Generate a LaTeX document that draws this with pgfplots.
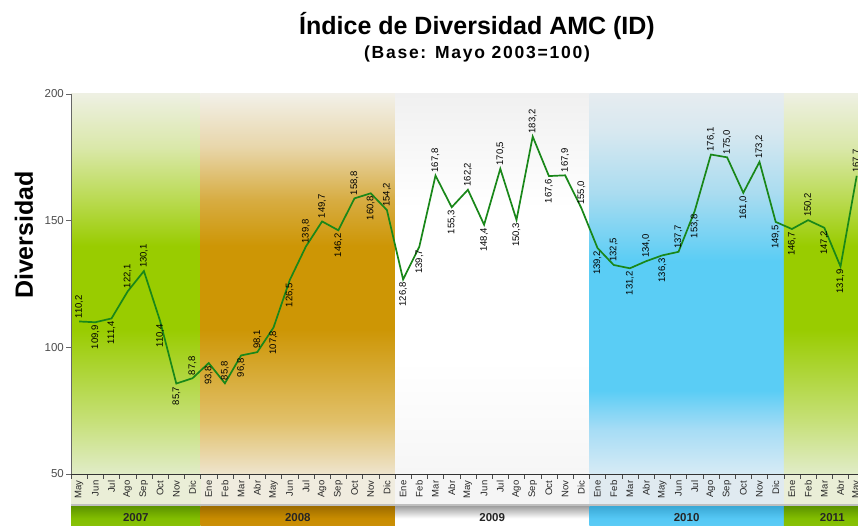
\documentclass[border=0pt]{standalone}
\usepackage{fontspec}
\setmainfont{Liberation Sans}
\usepackage{pgfplots}
\usepackage{pgfplotstable}
\pgfplotsset{compat=1.18}

\definecolor{lineG}{RGB}{25,135,25}
% green bands
\definecolor{gA}{RGB}{225,236,200}
\definecolor{gB}{RGB}{198,224,120}
\definecolor{gS}{RGB}{153,204,0}
\definecolor{gC}{RGB}{185,218,80}
\definecolor{gD}{RGB}{218,232,170}
\definecolor{gE}{RGB}{238,240,226}
% gold band
\definecolor{oA}{RGB}{238,228,205}
\definecolor{oB}{RGB}{225,192,105}
\definecolor{oS}{RGB}{205,150,5}
\definecolor{oC}{RGB}{215,172,65}
\definecolor{oD}{RGB}{232,214,170}
\definecolor{oE}{RGB}{242,240,232}
% blue band
\definecolor{bA}{RGB}{215,235,245}
\definecolor{bB}{RGB}{165,220,245}
\definecolor{bS}{RGB}{90,205,245}
\definecolor{bC}{RGB}{170,220,240}
\definecolor{bD}{RGB}{215,232,240}
\definecolor{bE}{RGB}{230,236,240}
% white band
\definecolor{wA}{RGB}{246,246,246}
\definecolor{wS}{RGB}{255,255,255}
\definecolor{wE}{RGB}{240,240,240}

\pgfdeclareverticalshading{sh07}{100bp}{color(0bp)=(gA); color(25bp)=(gA); color(32bp)=(gB); color(44bp)=(gS); color(55bp)=(gS); color(61bp)=(gC); color(68bp)=(gD); color(75bp)=(gE); color(100bp)=(gE)}
\pgfdeclareverticalshading{sh08}{100bp}{color(0bp)=(oA); color(25bp)=(oA); color(32bp)=(oB); color(44bp)=(oS); color(55bp)=(oS); color(61bp)=(oC); color(68bp)=(oD); color(75bp)=(oE); color(100bp)=(oE)}
\pgfdeclareverticalshading{sh09}{100bp}{color(0bp)=(wA); color(25bp)=(wA); color(40bp)=(wS); color(60bp)=(wS); color(75bp)=(wE); color(100bp)=(wE)}
\pgfdeclareverticalshading{sh10}{100bp}{color(0bp)=(bA); color(25bp)=(bA); color(31bp)=(bB); color(36bp)=(bS); color(53bp)=(bS); color(62bp)=(bC); color(70bp)=(bD); color(75bp)=(bE); color(100bp)=(bE)}

% index of month (0 = May 2007) and value of the index
\pgfplotstableread{
x y
0 110.2
1 109.9
2 111.4
3 122.1
4 130.1
5 110.4
6 85.7
7 87.8
8 93.8
9 85.8
10 96.8
11 98.1
12 107.8
13 126.5
14 139.8
15 149.7
16 146.2
17 158.8
18 160.8
19 154.2
20 126.8
21 139.7
22 167.8
23 155.3
24 162.2
25 148.4
26 170.5
27 150.3
28 183.2
29 167.6
30 167.9
31 155.0
32 139.2
33 132.5
34 131.2
35 134.0
36 136.3
37 137.7
38 153.8
39 176.1
40 175.0
41 161.0
42 173.2
43 149.5
44 146.7
45 150.2
46 147.2
47 131.9
48 167.7
}\datatable
% points whose label stands above the line
\pgfplotstableread{
x y
0 110.2
3 122.1
4 130.1
7 87.8
9 85.8
11 98.1
14 139.8
15 149.7
17 158.8
19 154.2
22 167.8
24 162.2
26 170.5
28 183.2
30 167.9
31 155.0
33 132.5
35 134.0
37 137.7
39 176.1
40 175.0
42 173.2
45 150.2
48 167.7
}\abovetable
% points whose label stands below the line
\pgfplotstableread{
x y
1 109.9
2 111.4
5 110.4
6 85.7
8 93.8
10 96.8
12 107.8
13 126.5
16 146.2
18 160.8
20 126.8
21 139.7
23 155.3
25 148.4
27 150.3
29 167.6
32 139.2
34 131.2
36 136.3
38 153.8
41 161.0
43 149.5
44 146.7
46 147.2
47 131.9
}\belowtable

\begin{document}
\begin{tikzpicture}
\path[use as bounding box] (0,0) rectangle (858pt,526pt);
\begin{axis}[
  at={(71pt,52pt)}, anchor=south west,
  scale only axis, width=793.8pt, height=380pt,
  xmin=-0.5, xmax=48.5, ymin=50, ymax=200,
  clip=false, axis on top,
  axis x line*=bottom, axis y line*=left,
  x axis line style={-, draw=black!80, line width=0.8pt},
  y axis line style={-, draw=black!60, line width=0.8pt},
  tick align=outside,
  major tick length=5pt,
  xtick={-0.5,0.5,...,48.5},
  x tick label as interval,
  xticklabels={May,Jun,Jul,Ago,Sep,Oct,Nov,Dic,
    Ene,Feb,Mar,Abr,May,Jun,Jul,Ago,Sep,Oct,Nov,Dic,
    Ene,Feb,Mar,Abr,May,Jun,Jul,Ago,Sep,Oct,Nov,Dic,
    Ene,Feb,Mar,Abr,May,Jun,Jul,Ago,Sep,Oct,Nov,Dic,
    Ene,Feb,Mar,Abr,May},
  xticklabel style={rotate=90, anchor=east, inner sep=1.5pt, font=\fontsize{9.5}{10}\selectfont, text=black!85},
  x tick style={draw=black!70, line width=0.6pt},
  ytick={50,100,150,200},
  yticklabel style={font=\fontsize{11.5}{12}\selectfont, text=black!70, inner sep=2pt},
  y tick style={draw=black!60, line width=0.6pt},
  /pgf/number format/assume math mode=true,
  lab/.style={draw=none, mark=none, point meta=y,
    nodes near coords={\pgfmathprintnumber[fixed,fixed zerofill,precision=1,use comma]{\pgfplotspointmeta}},
    every node near coord/.append style={rotate=90, anchor=#1, inner sep=3pt, font=\fontsize{9.5}{10}\selectfont, text=black}},
]
% background bands
\addplot[draw=none, shade, shading=sh07] coordinates {(-0.5,50) (-0.5,200) (7.5,200) (7.5,50)} -- cycle;
\addplot[draw=none, shade, shading=sh08] coordinates {(7.5,50) (7.5,200) (19.5,200) (19.5,50)} -- cycle;
\addplot[draw=none, shade, shading=sh09] coordinates {(19.5,50) (19.5,200) (31.5,200) (31.5,50)} -- cycle;
\addplot[draw=none, shade, shading=sh10] coordinates {(31.5,50) (31.5,200) (43.5,200) (43.5,50)} -- cycle;
\addplot[draw=none, shade, shading=sh07] coordinates {(43.5,50) (43.5,200) (48.5,200) (48.5,50)} -- cycle;
% month label strip
\fill[gE!80!gD] (-0.5,38.2) rectangle (7.5,50);
\fill[oE!85!oD] (7.5,38.2) rectangle (19.5,50);
\fill[black!4] (19.5,38.2) rectangle (31.5,50);
\fill[bE!60!bD] (31.5,38.2) rectangle (43.5,50);
\fill[gE!80!gD] (43.5,38.2) rectangle (48.5,50);
\fill[black!25] (-0.5,37.0) rectangle (48.5,38.2);
% year bars
\shade[top color={rgb,255:red,95;green,150;blue,0}, bottom color={rgb,255:red,140;green,195;blue,10}, middle color={rgb,255:red,130;green,190;blue,0}] (-0.5,28) rectangle (7.5,37.0);
\shade[top color={rgb,255:red,160;green,110;blue,0}, bottom color={rgb,255:red,205;green,145;blue,10}, middle color={rgb,255:red,200;green,140;blue,0}] (7.5,28) rectangle (19.5,37.0);
\shade[top color=black!35, bottom color=white, middle color=white] (19.5,28) rectangle (31.5,37.0);
\shade[top color={rgb,255:red,60;green,170;blue,215}, bottom color={rgb,255:red,95;green,205;blue,245}, middle color={rgb,255:red,85;green,200;blue,245}] (31.5,28) rectangle (43.5,37.0);
\shade[top color={rgb,255:red,95;green,150;blue,0}, bottom color={rgb,255:red,140;green,195;blue,10}, middle color={rgb,255:red,130;green,190;blue,0}] (43.5,28) rectangle (48.5,37.0);
\node[font=\bfseries\fontsize{11.5}{12}\selectfont, text=black!85] at (3.5,32.8) {2007};
\node[font=\bfseries\fontsize{11.5}{12}\selectfont, text=black!85] at (13.5,32.8) {2008};
\node[font=\bfseries\fontsize{11.5}{12}\selectfont, text=black!85] at (25.5,32.8) {2009};
\node[font=\bfseries\fontsize{11.5}{12}\selectfont, text=black!85] at (37.5,32.8) {2010};
\node[font=\bfseries\fontsize{11.5}{12}\selectfont, text=black!85] at (46.5,32.8) {2011};
% data line
\addplot[lineG, line width=1.7pt, mark=none] table[x=x, y=y] {\datatable};
% value labels
\addplot[lab=west] table[x=x, y=y] {\abovetable};
\addplot[lab=east] table[x=x, y=y] {\belowtable};
\end{axis}
\node[font=\bfseries\fontsize{25}{28}\selectfont] at (477pt,500pt) {Índice de Diversidad AMC (ID)};
\node[font=\bfseries\fontsize{17.5}{19}\selectfont\addfontfeature{LetterSpace=10}] at (477pt,472pt) {(Base: Mayo 2003=100)};
\node[rotate=90, font=\bfseries\fontsize{25}{27}\selectfont] at (24pt,291pt) {Diversidad};
\end{tikzpicture}
\end{document}
